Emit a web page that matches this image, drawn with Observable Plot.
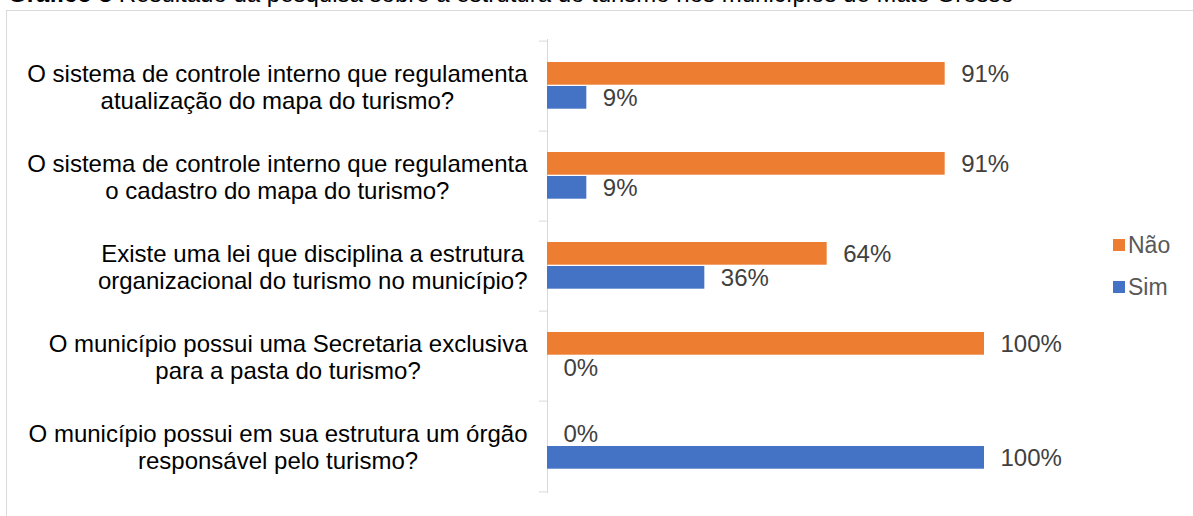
<!DOCTYPE html>
<html>
<head>
<meta charset="utf-8">
<script src="https://cdn.jsdelivr.net/npm/d3@7"></script>
<script src="https://cdn.jsdelivr.net/npm/@observablehq/plot@0.6"></script>
<style>
  html, body { margin: 0; padding: 0; background: #fff; overflow: hidden; width: 1193px; height: 516px; }
  body { font-family: "Liberation Sans", Arial, sans-serif; position: relative; }
  #title { position: relative; height: 10px; }
  #title span { position: absolute; left: 8px; top: -18px; font-size: 24px; line-height: 24px; white-space: nowrap; color: #000; }
  #frame { margin-left: 6px; border-top: 1px solid #d9d9d9; border-left: 1px solid #d9d9d9; height: 506px; position: relative; }
  #frame svg { display: block; }
  #legend { position: absolute; left: 1113px; top: 230px; font-size: 23px; color: #595959; }
  #legend .row { display: flex; align-items: center; height: 30px; margin-bottom: 12px; }
  #legend .sw { width: 12px; height: 12px; margin-right: 3px; }
</style>
</head>
<body>
<div id="title"><span><b>Gráfico 3</b> Resultado da pesquisa sobre a estrutura do turismo nos municípios de Mato Grosso</span></div>
<div id="frame"></div>
<div id="legend"></div>
<script>
const categories = [
  "O sistema de controle interno que regulamenta\natualização do mapa do turismo?",
  "O sistema de controle interno que regulamenta\no cadastro do mapa do turismo?",
  "Existe uma lei que disciplina a estrutura\norganizacional do turismo no município?",
  "O município possui uma Secretaria exclusiva\npara a pasta do turismo?",
  "O município possui em sua estrutura um órgão\nresponsável pelo turismo?"
];
const series = ["Não", "Sim"];
const naoValues = [91, 91, 64, 100, 0];
const simValues = [9, 9, 36, 0, 100];
const colors = ["#ED7D31", "#4472C4"];

const rows = [];
categories.forEach((c, i) => {
  rows.push({categoria: c, serie: "Não", valor: naoValues[i]});
  rows.push({categoria: c, serie: "Sim", valor: simValues[i]});
});
const nao = rows.filter(d => d.serie === "Não");
const sim = rows.filter(d => d.serie === "Sim");

const W = 1186, H = 505, mT = 28, mB = 23, mL = 540, mR = 209;
const bw = (H - mT - mB) / categories.length;
const font = "24px 'Liberation Sans', Arial, sans-serif";

const ctx = document.createElement("canvas").getContext("2d");
ctx.font = font;
const maxW = c => Math.max(...c.split("\n").map(s => ctx.measureText(s).width));

const labelMarks = categories.map(c => Plot.text([c], {
  y: d => d, text: d => d, frameAnchor: "left", textAnchor: "middle",
  dx: -(20 + maxW(c) / 2), lineHeight: 1.15, fontSize: 24, fill: "#000"
}));

const chart = Plot.plot({
  width: W, height: H,
  marginTop: mT, marginBottom: mB, marginLeft: mL, marginRight: mR,
  style: {fontFamily: "'Liberation Sans', Arial, sans-serif", background: "transparent"},
  x: {domain: [0, 100], axis: null},
  y: {domain: categories, padding: 0, axis: null},
  color: {domain: series, range: colors},
  marks: [
    Plot.ruleX([0], {stroke: "#d9d9d9"}),
    Plot.ruleY(categories, {y: d => d, x1: 0, x2: 0, insetLeft: -8, dy: -bw / 2, stroke: "#d9d9d9"}),
    Plot.ruleY(categories.slice(-1), {y: d => d, x1: 0, x2: 0, insetLeft: -8, dy: bw / 2, stroke: "#d9d9d9"}),
    Plot.barX(nao, {y: "categoria", x: "valor", fill: "serie", insetTop: 21, insetBottom: bw - 21 - 23.5}),
    Plot.barX(sim, {y: "categoria", x: "valor", fill: "serie", insetTop: 45, insetBottom: bw - 45 - 23.5}),
    Plot.text(nao, {y: "categoria", x: "valor", text: d => d.valor + "%", textAnchor: "start", dx: 16, dy: 21 + 11.75 - bw / 2, fontSize: 24, fill: "#404040"}),
    Plot.text(sim, {y: "categoria", x: "valor", text: d => d.valor + "%", textAnchor: "start", dx: 16, dy: 45 + 11.75 - bw / 2, fontSize: 24, fill: "#404040"}),
    ...labelMarks
  ]
});
document.getElementById("frame").appendChild(chart);

const leg = d3.select("#legend");
series.forEach((s, i) => {
  const r = leg.append("div").attr("class", "row");
  r.append("div").attr("class", "sw").style("background", chart.scale("color").apply(s));
  r.append("span").text(s);
});
</script>
</body>
</html>
